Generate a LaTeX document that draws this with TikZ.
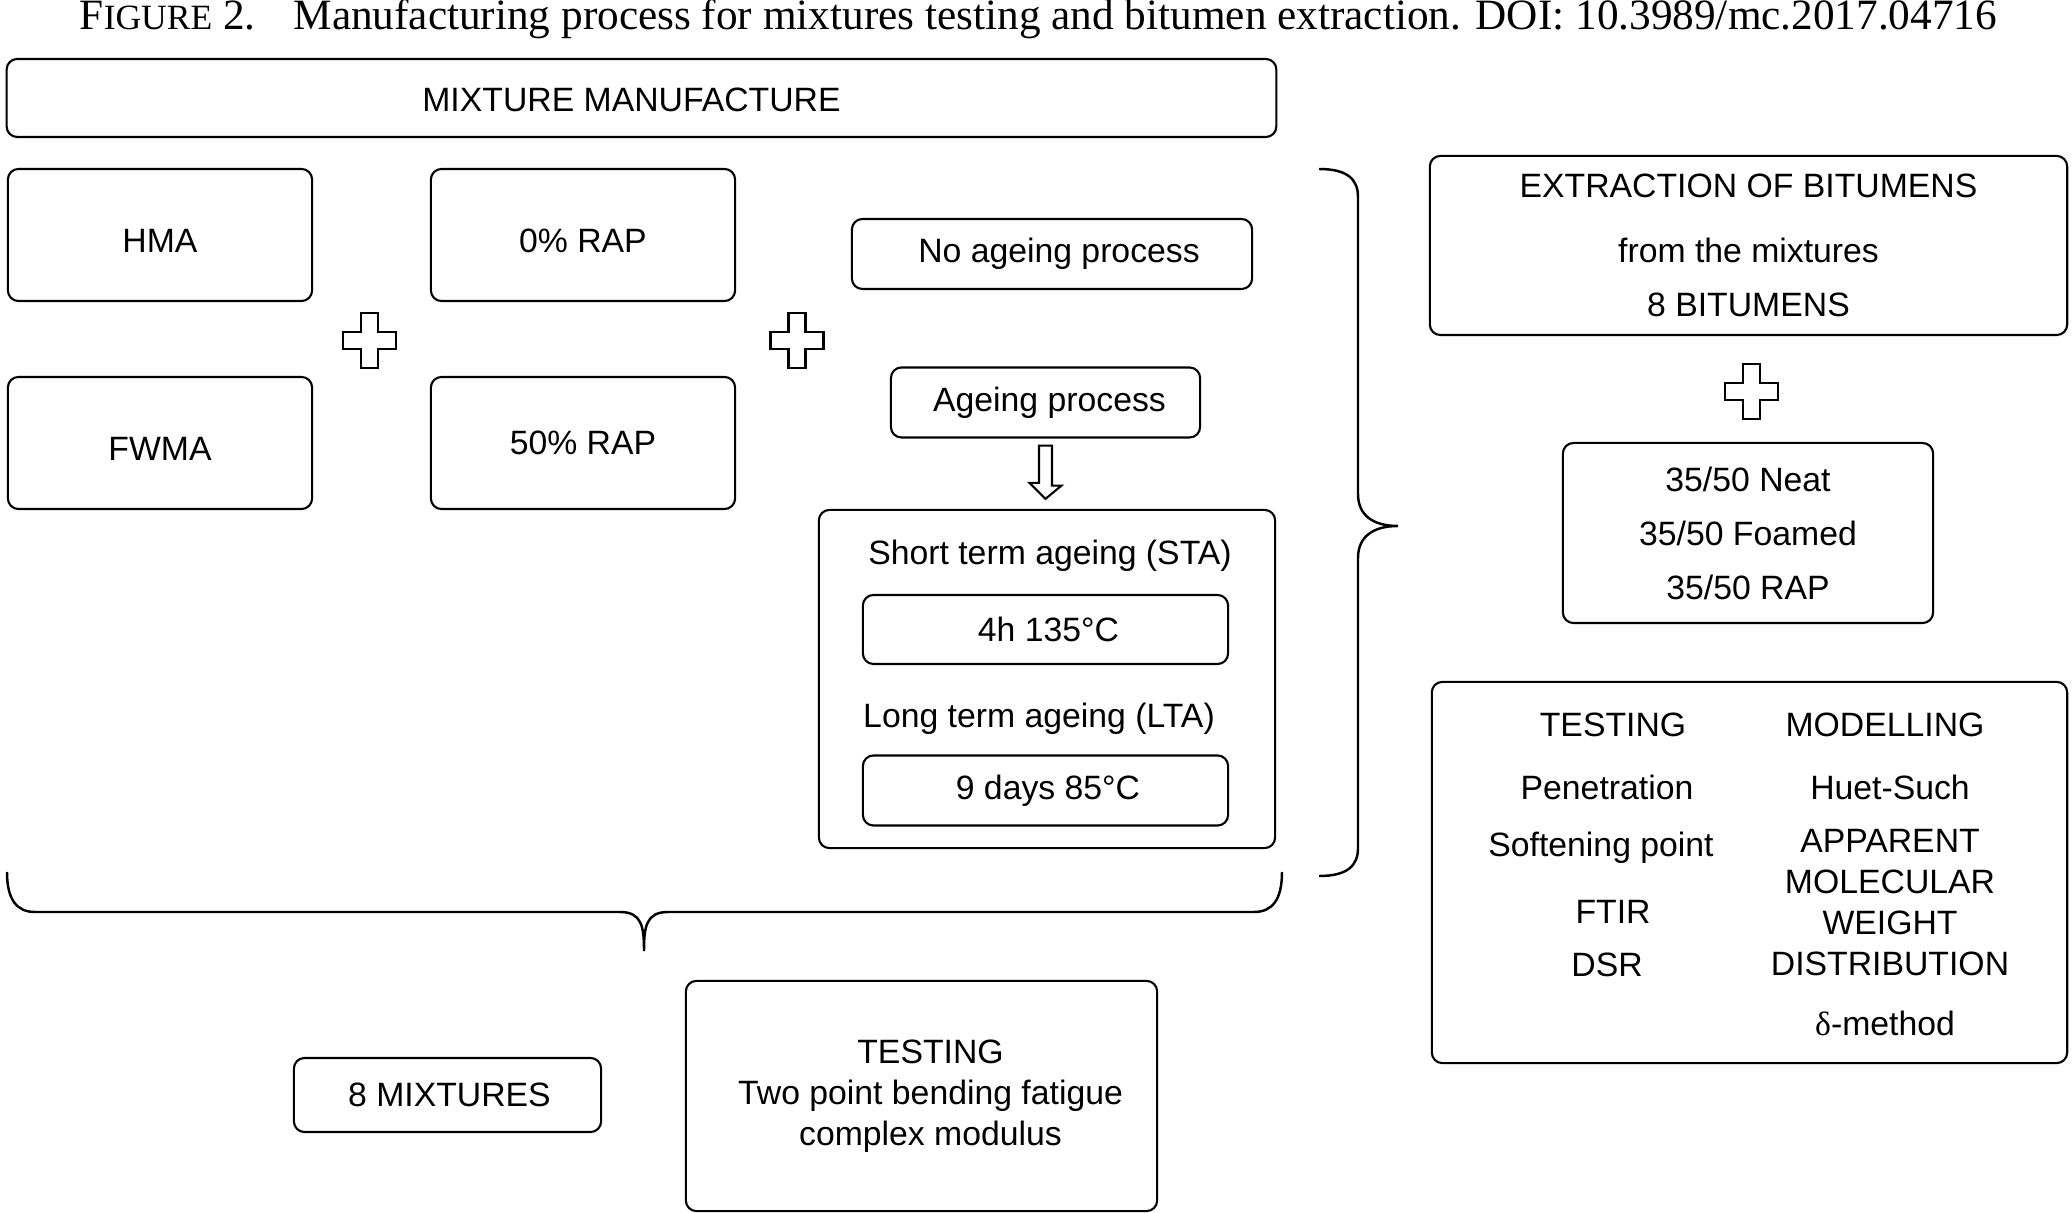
\documentclass[tikz,border=0pt]{standalone}
\usepackage{fontspec}
\setmainfont{Liberation Sans}
\newfontfamily\capfont{Liberation Serif}

\begin{document}
\begin{tikzpicture}[x=0.01cm, y=0.01cm]
\tikzstyle{every node}+=[inner sep=0pt, font=\fontsize{9.6}{15.36}\selectfont]
\tikzstyle{box}=[draw=black, line width=0.6pt, rounded corners=3pt, align=center]
\tikzstyle{bracket}=[draw=black, line width=0.7pt]
\useasboundingbox (0,0) rectangle (2072,-1213);
% caption
\node [anchor=base west, font={\capfont\fontsize{12.3}{14}\selectfont}] (caption) at (79,-30) {F{\fontsize{10.1}{12}\selectfont IGURE} 2.\hspace{0.88em}Manufacturing process for mixtures testing and bitumen extraction. DOI: 10.3989/mc.2017.04716};
% mixtures
\node [box, minimum width=12.69cm, minimum height=0.78cm, text height=0.27cm] (manuf) at (641.5,-98) {MIXTURE MANUFACTURE\hspace{0.2cm}};
\node [box, minimum width=3.04cm, minimum height=1.32cm, text height=0.34cm] (hma) at (160,-235) {HMA};
\node [box, minimum width=3.04cm, minimum height=1.32cm, text height=0.34cm] (fwma) at (160,-443) {FWMA};
\node [box, minimum width=3.04cm, minimum height=1.32cm, text height=0.36cm] (rap0) at (583,-235) {0\% RAP};
\node [box, minimum width=3.04cm, minimum height=1.32cm] (rap50) at (583,-443) {50\% RAP};
\node [box, minimum width=4.0cm, minimum height=0.70cm] (noage) at (1052,-254) {\hspace{0.14cm}No ageing process};
\node [box, minimum width=3.09cm, minimum height=0.70cm] (age) at (1045.5,-402.5) {\hspace{0.08cm}Ageing process};
\node [box, minimum width=4.56cm, minimum height=3.38cm] (sta) at (1047,-679) {};
\node [anchor=base] (stalabel) at (1050,-565) {Short term ageing (STA)};
\node [box, minimum width=3.65cm, minimum height=0.69cm] (short) at (1045.5,-629.5) {\hspace{0.06cm}4h 135°C};
\node [anchor=base] (ltalabel) at (1039,-728) {Long term ageing (LTA)};
\node [box, minimum width=3.65cm, minimum height=0.70cm] (long) at (1045.5,-790.5) {\hspace{0.05cm}9 days 85°C};
\node [box, minimum width=3.07cm, minimum height=0.74cm] (mix8) at (447.5,-1095) {\hspace{0.04cm}8 MIXTURES};
\node [box, minimum width=4.71cm, minimum height=2.30cm, font=\fontsize{9.6}{11.66}\selectfont] (test2) at (921.5,-1096) {\hspace{0.18cm}TESTING\\\hspace{0.18cm}Two point bending fatigue\\\hspace{0.18cm}complex modulus};
% bitumens
\node [box, minimum width=6.37cm, minimum height=1.79cm] (extr) at (1748.5,-245.5) {EXTRACTION OF BITUMENS\\[3.1pt]from the mixtures\\8 BITUMENS};
\node [box, minimum width=3.70cm, minimum height=1.80cm] (binders) at (1748,-533) {35/50 Neat\\35/50 Foamed\\35/50 RAP};
\node [box, minimum width=6.35cm, minimum height=3.81cm] (tm) at (1749.5,-872.5) {};
\node [anchor=base] (ttest) at (1613,-737) {TESTING};
\node [anchor=base] (tpen) at (1607,-800) {Penetration};
\node [anchor=base] (tsoft) at (1601,-857) {Softening point};
\node [anchor=base] (tftir) at (1613,-923) {FTIR};
\node [anchor=base] (tdsr) at (1607,-976) {DSR};
\node [anchor=base] (mmod) at (1885,-737) {MODELLING};
\node [anchor=base] (mhuet) at (1890,-800) {Huet-Such};
\node [align=center, font=\fontsize{9.6}{11.66}\selectfont] (mamwd) at (1890,-902.5) {APPARENT\\MOLECULAR\\WEIGHT\\DISTRIBUTION};
\node [anchor=base] (mdelta) at (1885,-1035) {{\capfont δ}-method};
% plus signs
\foreach \px/\py in {369.5/-340.5, 797/-340.5, 1751.5/-391.5}
  \draw [black, line width=0.6pt] (\px,\py) ++(-8.5,27.5) -- ++(17,0) -- ++(0,-19) -- ++(18,0) -- ++(0,-17) -- ++(-18,0) -- ++(0,-19) -- ++(-17,0) -- ++(0,19) -- ++(-18,0) -- ++(0,17) -- ++(18,0) -- cycle;
% block arrow
\path (age.south) ++(0,-7) coordinate (ar1);
\path (sta.north) ++(0,10) coordinate (ar2);
\draw [black, line width=0.6pt] (ar1) ++(-6.5,0) -- ++(13,0) -- ++(0,-40) -- ++(9.5,0) -- (ar1 |- ar2) -- ++(-16,16) -- ++(9.5,0) -- cycle;
% braces
\coordinate (rbtop) at (1319,-169);
\coordinate (rbtip) at (1398,-526);
\coordinate (rbbot) at (1319,-876);
\draw [bracket] (rbtop) .. controls +(28,0) and +(0,18) .. (1358,-197) -- (1358,-494) .. controls +(0,-22) and +(-24,0) .. (rbtip) .. controls +(-24,0) and +(0,22) .. (1358,-558) -- (1358,-848) .. controls +(0,-18) and +(28,0) .. (rbbot);
\coordinate (bbleft) at (7,-872);
\coordinate (bbtip) at (644,-951);
\coordinate (bbright) at (1282,-872);
\draw [bracket] (bbleft) .. controls +(0,-28) and +(-18,0) .. (35,-912) -- (620,-912) .. controls +(22,0) and +(0,24) .. (bbtip) .. controls +(0,24) and +(-22,0) .. (668,-912) -- (1254,-912) .. controls +(18,0) and +(0,-28) .. (bbright);
\end{tikzpicture}
\end{document}
